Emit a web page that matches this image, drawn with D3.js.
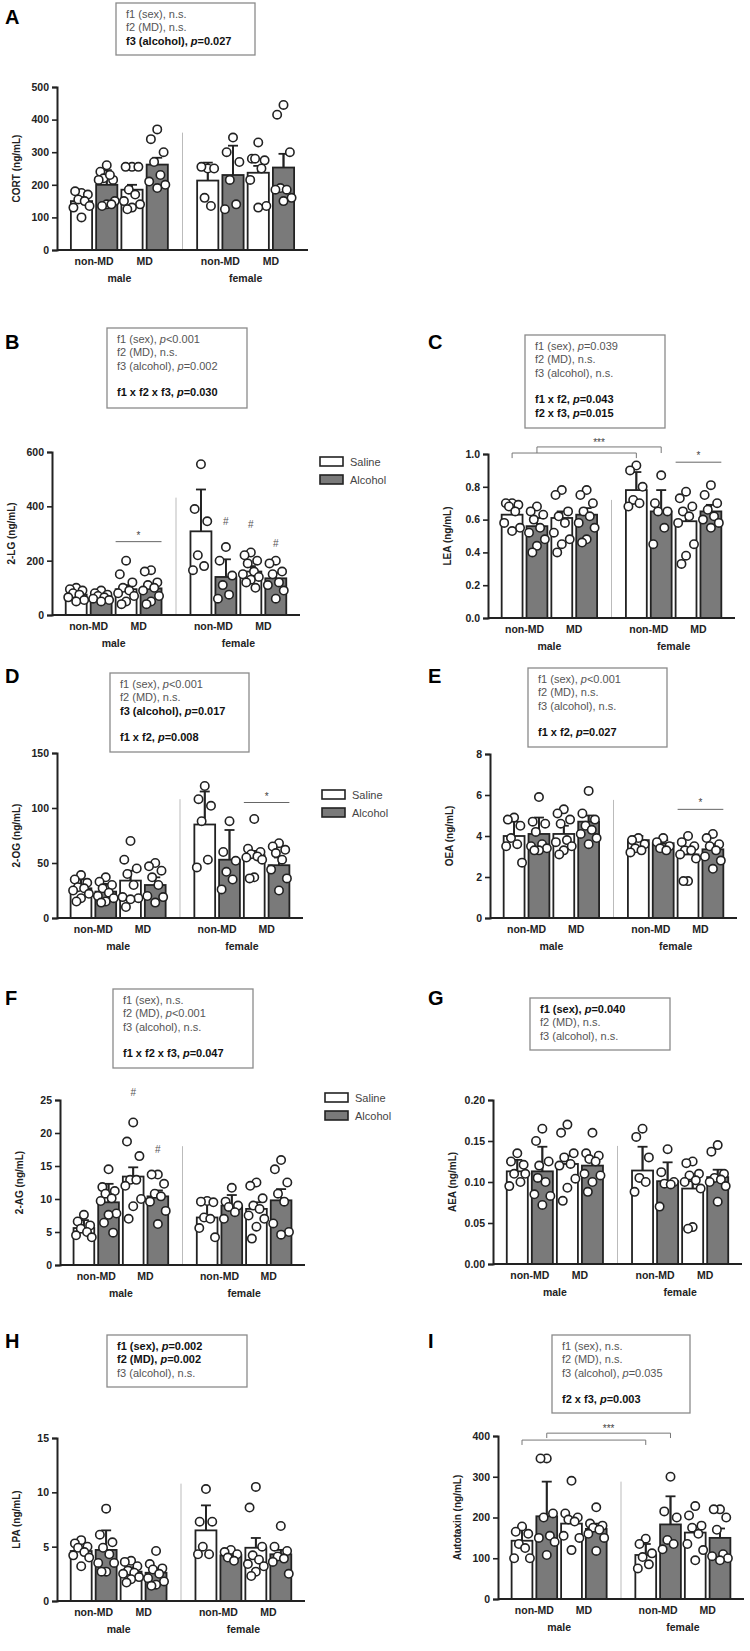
<!DOCTYPE html>
<html>
<head>
<meta charset="utf-8">
<script src="https://cdn.jsdelivr.net/npm/d3@7"></script>
<style>
  body { margin: 0; background: #fff; }
  text { font-family: "Liberation Sans", Arial, sans-serif; }
</style>
</head>
<body>
<div id="fig"></div>
<script>
// groups: male non-MD saline/alcohol, male MD saline/alcohol, female ...
const groupNames = ["non-MD", "MD", "non-MD", "MD"];
const sexNames = ["male", "female"];
const legendNames = ["Saline", "Alcohol"];

// bar means and top of error bars, per panel (8 bars each)
const cortMean = [150, 200, 185, 262, 213, 230, 237, 253];
const cortErr  = [165, 245, 200, 283, 268, 320, 258, 295];
const cortDots = [
  [175,180,170,155,150,130,135,100],
  [260,240,215,220,230,215,150,140,135,140],
  [255,255,255,185,170,150,140,130,125],
  [370,340,300,270,230,210,200,190],
  [250,255,250,160,135],
  [345,300,270,215,140,125],
  [330,280,275,280,250,215,135,130],
  [445,415,300,190,185,185,160,150]
];

const lgMean = [75, 68, 95, 98, 308, 140, 160, 135];
const lgErr  = [85, 75, 110, 115, 462, 205, 180, 155];
const lgDots = [
  [100,95,90,80,75,65,55,50],
  [90,80,75,70,65,60,55,50],
  [200,150,120,100,90,80,70,50,40],
  [165,160,120,110,100,90,70,50,40],
  [555,390,345,220,180,165],
  [250,200,145,110,75,60],
  [230,220,200,190,160,150,140,130,120,100],
  [200,190,160,150,120,110,90,60]
];

const leaMean = [0.63, 0.56, 0.61, 0.63, 0.78, 0.65, 0.59, 0.65];
const leaErr  = [0.69, 0.61, 0.65, 0.67, 0.89, 0.78, 0.64, 0.69];
const leaDots = [
  [0.70,0.70,0.69,0.68,0.65,0.58,0.55,0.53],
  [0.68,0.65,0.63,0.60,0.55,0.52,0.48,0.44,0.40],
  [0.78,0.75,0.65,0.62,0.58,0.52,0.48,0.45,0.40],
  [0.78,0.75,0.70,0.65,0.62,0.58,0.55,0.48,0.46],
  [0.93,0.90,0.80,0.72,0.70,0.68],
  [0.87,0.70,0.65,0.65,0.55,0.45],
  [0.77,0.73,0.68,0.65,0.62,0.58,0.45,0.38,0.33],
  [0.81,0.75,0.70,0.66,0.62,0.60,0.58,0.55]
];

const ogMean = [27, 24, 34, 30, 85, 53, 57, 48];
const ogErr  = [35, 31, 43, 37, 115, 80, 61, 55];
const ogDots = [
  [39,35,32,28,27,25,22,18,15],
  [37,33,30,27,23,20,18,15,14],
  [70,53,45,40,30,19,18,17,10],
  [50,47,43,37,30,20,19,14],
  [120,108,102,88,53,46],
  [88,60,52,42,35,26],
  [90,63,60,58,56,55,53,37,36],
  [68,65,62,59,53,44,36,25]
];

const oeaMean = [4.0, 4.1, 4.1, 4.7, 3.8, 3.65, 3.1, 3.35];
const oeaErr  = [4.7, 4.9, 4.5, 5.0, 4.0, 3.8, 3.4, 3.6];
const oeaDots = [
  [4.9,4.8,4.5,3.9,3.6,3.5,2.7],
  [5.9,4.7,4.6,4.2,3.6,3.5,3.4,3.3,3.3],
  [5.3,5.1,4.8,4.6,3.8,3.7,3.5,3.3,3.1],
  [6.2,5.1,4.8,4.5,4.3,4.1,3.9,3.6],
  [3.9,3.8,3.6,3.4,3.3,3.2],
  [3.9,3.7,3.5,3.4,3.3],
  [4.0,3.7,3.5,3.3,3.3,3.1,2.9,1.8,1.8],
  [4.1,3.9,3.6,3.5,3.3,3.0,2.8,2.4]
];

const agMean = [5.6, 9.5, 13.4, 10.4, 7.2, 9.0, 8.5, 9.8];
const agErr  = [6.8, 12.3, 14.8, 11.3, 9.5, 10.6, 9.5, 11.5];
const agDots = [
  [7.6,6.6,6.0,5.5,5.0,4.5,4.2],
  [14.5,11.8,11.2,10.8,10.1,9.7,7.8,7.6,6.4,4.9],
  [21.6,18.7,16.5,12.9,12.9,12.0,10.0,8.9,7.0],
  [13.7,13.7,12.3,10.8,10.4,9.6,8.2,6.2],
  [9.7,9.6,9.5,7.2,7.0,5.6,4.2],
  [11.7,9.6,9.0,8.8,8.0,7.0],
  [12.5,12.0,10.1,9.0,8.5,7.5,7.0,5.8,4.0],
  [15.9,14.5,12.5,10.8,9.6,6.3,5.0,4.6]
];

const aeaMean = [0.113, 0.113, 0.122, 0.120, 0.114, 0.101, 0.092, 0.106];
const aeaErr  = [0.127, 0.143, 0.132, 0.130, 0.143, 0.124, 0.101, 0.115];
const aeaDots = [
  [0.135,0.125,0.121,0.110,0.100,0.095,0.110],
  [0.165,0.150,0.125,0.120,0.100,0.085,0.083,0.072,0.105],
  [0.170,0.160,0.135,0.130,0.122,0.120,0.104,0.093,0.077],
  [0.160,0.135,0.132,0.128,0.125,0.110,0.108,0.100,0.088],
  [0.165,0.155,0.130,0.105,0.100,0.088],
  [0.140,0.112,0.100,0.098,0.097,0.070],
  [0.125,0.123,0.110,0.108,0.102,0.100,0.092,0.045,0.043],
  [0.145,0.137,0.110,0.105,0.103,0.100,0.095,0.076]
];

const lpaMean = [4.6, 4.7, 2.7, 2.6, 6.5, 4.2, 4.9, 4.3];
const lpaErr  = [5.4, 6.5, 3.1, 3.0, 8.8, 4.5, 5.8, 4.7];
const lpaDots = [
  [5.6,5.3,5.0,4.9,4.5,4.2,4.0,3.2],
  [8.5,6.1,5.4,4.9,4.3,3.5,3.5,2.7,2.7],
  [3.7,3.6,3.2,2.8,2.6,2.5,2.2,2.0,1.7],
  [4.6,3.4,3.0,2.9,2.5,2.1,1.8,1.5,1.4],
  [10.3,7.3,7.3,5.0,4.3,4.3],
  [4.7,4.5,4.3,4.0,3.7],
  [10.5,8.6,5.0,4.2,3.8,3.4,3.2,2.7,2.3],
  [6.9,5.0,4.6,4.1,3.9,3.6,2.5]
];

const atxMean = [143, 203, 185, 172, 108, 183, 163, 150];
const atxErr  = [175, 288, 200, 185, 135, 252, 178, 173];
const atxDots = [
  [178,165,160,135,125,100,100],
  [345,345,210,200,155,150,140,108],
  [290,210,200,195,190,155,150,120],
  [225,185,180,175,170,160,150,118],
  [148,135,112,103,85,75],
  [300,215,200,145,135,122],
  [228,205,180,175,160,135,120,95],
  [220,220,200,170,110,105,100,95]
];

// panel layout
const panels = [
  { letter: "A", lx: 5, ly: 16, box: [116, 3, 139, 52], lines: [["f1 (sex), n.s.",0],["f2 (MD), n.s.",0],["f3 (alcohol), p=0.027",1]],
    ax: [57, 308, 87, 250], max: 500, ticks: [0,100,200,300,400,500], fmt: d => d, title: "CORT (ng/mL)",
    mean: cortMean, err: cortErr, dots: cortDots },
  { letter: "B", lx: 5, ly: 341, box: [107, 328, 140, 80], lines: [["f1 (sex), p<0.001",0],["f2 (MD), n.s.",0],["f3 (alcohol), p=0.002",0],["",0],["f1 x f2 x f3, p=0.030",1]],
    ax: [52, 300, 452, 615], max: 600, ticks: [0,200,400,600], fmt: d => d, title: "2-LG (ng/mL)",
    mean: lgMean, err: lgErr, dots: lgDots, legend: [320, 457],
    sig: [[2,3,270,"*"]], hash: [[5,330],[6,320],[7,250]] },
  { letter: "C", lx: 428, ly: 341, box: [525, 335, 140, 93], lines: [["f1 (sex), p=0.039",0],["f2 (MD), n.s.",0],["f3 (alcohol), n.s.",0],["",0],["f1 x f2, p=0.043",1],["f2 x f3, p=0.015",1]],
    ax: [488, 735, 454, 618], max: 1.0, ticks: [0,0.2,0.4,0.6,0.8,1.0], fmt: d3.format(".1f"), title: "LEA (ng/mL)",
    mean: leaMean, err: leaErr, dots: leaDots,
    sig: [[6,7,0.95,"*"]], brackets: [[0,4,1.006,0.975],[1,5,1.043,1.006]], bracketText: ["***", 1.07] },
  { letter: "D", lx: 5, ly: 675, box: [110, 673, 139, 79], lines: [["f1 (sex), p<0.001",0],["f2 (MD), n.s.",0],["f3 (alcohol), p=0.017",1],["",0],["f1 x f2, p=0.008",1]],
    ax: [57, 303, 753, 918], max: 150, ticks: [0,50,100,150], fmt: d => d, title: "2-OG (ng/mL)",
    mean: ogMean, err: ogErr, dots: ogDots, legend: [322, 790],
    sig: [[6,7,105,"*"]] },
  { letter: "E", lx: 428, ly: 675, box: [528, 668, 139, 79], lines: [["f1 (sex), p<0.001",0],["f2 (MD), n.s.",0],["f3 (alcohol), n.s.",0],["",0],["f1 x f2, p=0.027",1]],
    ax: [490, 737, 754, 918], max: 8, ticks: [0,2,4,6,8], fmt: d => d, title: "OEA (ng/mL)",
    mean: oeaMean, err: oeaErr, dots: oeaDots,
    sig: [[6,7,5.3,"*"]] },
  { letter: "F", lx: 5, ly: 997, box: [113, 989, 140, 79], lines: [["f1 (sex), n.s.",0],["f2 (MD), p<0.001",0],["f3 (alcohol), n.s.",0],["",0],["f1 x f2 x f3, p=0.047",1]],
    ax: [60, 305, 1100, 1265], max: 25, ticks: [0,5,10,15,20,25], fmt: d => d, title: "2-AG (ng/mL)",
    mean: agMean, err: agErr, dots: agDots, legend: [325, 1093],
    hash: [[2,25.6],[3,17]] },
  { letter: "G", lx: 428, ly: 997, box: [530, 998, 140, 52], lines: [["f1 (sex), p=0.040",1],["f2 (MD), n.s.",0],["f3 (alcohol), n.s.",0]],
    ax: [493, 742, 1100, 1264], max: 0.2, ticks: [0,0.05,0.1,0.15,0.2], fmt: d3.format(".2f"), title: "AEA (ng/mL)",
    mean: aeaMean, err: aeaErr, dots: aeaDots },
  { letter: "H", lx: 5, ly: 1340, box: [107, 1335, 140, 52], lines: [["f1 (sex), p=0.002",1],["f2 (MD), p=0.002",1],["f3 (alcohol), n.s.",0]],
    ax: [57, 305, 1438, 1601], max: 15, ticks: [0,5,10,15], fmt: d => d, title: "LPA (ng/mL)",
    mean: lpaMean, err: lpaErr, dots: lpaDots },
  { letter: "I", lx: 428, ly: 1340, box: [552, 1335, 138, 78], lines: [["f1 (sex), n.s.",0],["f2 (MD), n.s.",0],["f3 (alcohol), p=0.035",0],["",0],["f2 x f3, p=0.003",1]],
    ax: [498, 744, 1436, 1599], max: 400, ticks: [0,100,200,300,400], fmt: d => d, title: "Autotaxin (ng/mL)",
    mean: atxMean, err: atxErr, dots: atxDots,
    brackets: [[0,4,390,378],[1,5,407,395]], bracketText: ["***", 417] }
];

const svg = d3.select("#fig").append("svg")
  .attr("width", 750).attr("height", 1651);

const slotOf = [0, 1, 2, 3, 5, 6, 7, 8];
const dotOffsets = [0, -0.3, 0.3, -0.15, 0.15, -0.38, 0.38, 0, -0.22, 0.22];

panels.forEach(p => {
  const g = svg.append("g");
  const [x0, x1, yTop, y0] = p.ax;

  g.append("text").attr("x", p.lx).attr("y", p.ly + 8)
    .attr("font-size", 20).attr("font-weight", "bold").text(p.letter);

  // stats box
  const [bx, by, bw, bh] = p.box;
  g.append("rect").attr("x", bx).attr("y", by).attr("width", bw).attr("height", bh)
    .attr("fill", "#fff").attr("stroke", "#8a8a8a").attr("stroke-width", 1.3);
  p.lines.forEach((ln, i) => {
    if (!ln[0]) return;
    const t = g.append("text").attr("x", bx + 10).attr("y", by + 15 + i * 13.3)
      .attr("font-size", 11).attr("fill", ln[1] ? "#111" : "#555")
      .attr("font-weight", ln[1] ? "bold" : "normal");
    const parts = ln[0].split(/\bp(?=[<=])/);
    t.append("tspan").text(parts[0]);
    if (parts.length > 1) {
      t.append("tspan").attr("font-style", "italic").text("p");
      t.append("tspan").text(parts[1]);
    }
  });

  const x = d3.scaleBand().domain(d3.range(9)).range([x0, x1])
    .paddingInner(0.16).paddingOuter(0.55);
  const y = d3.scaleLinear().domain([0, p.max]).range([y0, yTop]);
  const bwid = x.bandwidth();
  const cx = i => x(slotOf[i]) + bwid / 2;

  // separator
  const sx = x(4) + bwid / 2;
  g.append("line").attr("x1", sx).attr("x2", sx)
    .attr("y1", yTop + 0.28 * (y0 - yTop)).attr("y2", y0)
    .attr("stroke", "#bbb").attr("stroke-width", 1);

  // error bars (behind bars)
  p.mean.forEach((m, i) => {
    g.append("line").attr("x1", cx(i)).attr("x2", cx(i))
      .attr("y1", y(m)).attr("y2", y(p.err[i])).attr("stroke", "#222").attr("stroke-width", 1.8);
    g.append("line").attr("x1", cx(i) - 5).attr("x2", cx(i) + 5)
      .attr("y1", y(p.err[i])).attr("y2", y(p.err[i])).attr("stroke", "#222").attr("stroke-width", 1.8);
  });

  g.selectAll("rect.bar").data(p.mean).join("rect").attr("class", "bar")
    .attr("x", (d, i) => x(slotOf[i])).attr("width", bwid)
    .attr("y", d => y(d)).attr("height", d => y0 - y(d))
    .attr("fill", (d, i) => i % 2 ? "#7a7a7a" : "#fff")
    .attr("stroke", "#222").attr("stroke-width", 1.8);

  // error bar stubs above the bar edge (redraw so they sit on top)
  p.mean.forEach((m, i) => {
    g.append("line").attr("x1", cx(i)).attr("x2", cx(i))
      .attr("y1", y(m)).attr("y2", y(p.err[i])).attr("stroke", "#222").attr("stroke-width", 1.8);
  });

  // dots
  p.dots.forEach((arr, i) => {
    g.selectAll(null).data(arr).join("circle")
      .attr("cx", (d, j) => cx(i) + dotOffsets[j % dotOffsets.length] * bwid)
      .attr("cy", d => y(d)).attr("r", 4.2)
      .attr("fill", "#fff").attr("stroke", "#222").attr("stroke-width", 1.6);
  });

  // axes
  const yAxis = g.append("g").attr("transform", `translate(${x0},0)`)
    .call(d3.axisLeft(y).tickValues(p.ticks).tickFormat(p.fmt).tickSizeOuter(0).tickSize(5));
  yAxis.select(".domain").attr("stroke-width", 2).attr("stroke", "#222");
  yAxis.selectAll(".tick line").attr("stroke-width", 1.6).attr("stroke", "#222");
  yAxis.selectAll("text").attr("font-size", 10.5).attr("font-weight", "bold")
    .attr("fill", "#222").attr("font-family", "Liberation Sans, Arial, sans-serif");
  g.append("line").attr("x1", x0).attr("x2", x1).attr("y1", y0).attr("y2", y0)
    .attr("stroke", "#222").attr("stroke-width", 2);

  g.append("text")
    .attr("transform", `translate(${x0 - 37},${(y0 + yTop) / 2}) rotate(-90)`)
    .attr("text-anchor", "middle").attr("font-size", 10).attr("font-weight", "bold")
    .attr("fill", "#222").text(p.title);

  // x labels
  groupNames.forEach((n, k) => {
    const c = (cx(2 * k) + cx(2 * k + 1)) / 2;
    g.append("text").attr("x", c).attr("y", y0 + 15).attr("text-anchor", "middle")
      .attr("font-size", 10.5).attr("font-weight", "bold").attr("fill", "#222").text(n);
  });
  sexNames.forEach((n, k) => {
    const c = (cx(4 * k) + cx(4 * k + 3)) / 2;
    g.append("text").attr("x", c).attr("y", y0 + 32).attr("text-anchor", "middle")
      .attr("font-size", 10.5).attr("font-weight", "bold").attr("fill", "#222").text(n);
  });

  // legend
  if (p.legend) {
    legendNames.forEach((n, k) => {
      g.append("rect").attr("x", p.legend[0]).attr("y", p.legend[1] + k * 18)
        .attr("width", 23).attr("height", 9)
        .attr("fill", k ? "#7a7a7a" : "#fff").attr("stroke", "#222").attr("stroke-width", 1.6);
      g.append("text").attr("x", p.legend[0] + 30).attr("y", p.legend[1] + k * 18 + 9)
        .attr("font-size", 11).attr("fill", "#444").text(n);
    });
  }

  // significance lines
  (p.sig || []).forEach(([a, b, v, t]) => {
    g.append("line").attr("x1", cx(a) - bwid / 2).attr("x2", cx(b) + bwid / 2)
      .attr("y1", y(v)).attr("y2", y(v)).attr("stroke", "#666").attr("stroke-width", 1);
    g.append("text").attr("x", (cx(a) + cx(b)) / 2).attr("y", y(v) - 3)
      .attr("text-anchor", "middle").attr("font-size", 10).attr("fill", "#444").text(t);
  });
  (p.hash || []).forEach(([i, v]) => {
    g.append("text").attr("x", cx(i)).attr("y", y(v)).attr("text-anchor", "middle")
      .attr("font-size", 10).attr("fill", "#555").text("#");
  });
  (p.brackets || []).forEach(([a, b, v, v2]) => {
    g.append("path")
      .attr("d", `M${cx(a)},${y(v2)}V${y(v)}H${cx(b)}V${y(v2)}`)
      .attr("fill", "none").attr("stroke", "#777").attr("stroke-width", 1);
  });
  if (p.bracketText) {
    const [a, b] = p.brackets[1];
    g.append("text").attr("x", (cx(a) + cx(b)) / 2).attr("y", y(p.bracketText[1]) + 3)
      .attr("text-anchor", "middle").attr("font-size", 10).attr("fill", "#444").text(p.bracketText[0]);
  }
});
</script>
</body>
</html>
